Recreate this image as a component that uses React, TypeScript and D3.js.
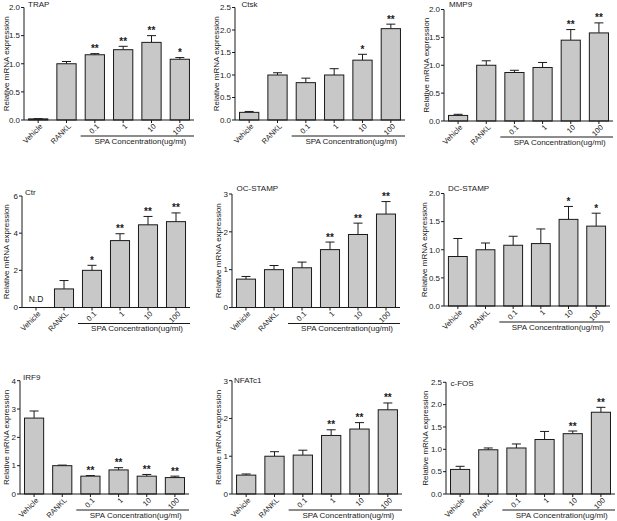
import React from "react";
import * as d3 from "d3";

const categories = ["Vehicle", "RANKL", "0.1", "1", "10", "100"];
const genes = ["TRAP", "Ctsk", "MMP9", "Ctr", "OC-STAMP", "DC-STAMP", "IRF9", "NFATc1", "c-FOS"];

const trapValues = [0.02, 1.0, 1.16, 1.25, 1.38, 1.08];
const trapErrors = [0.005, 0.04, 0.02, 0.06, 0.12, 0.03];
const trapSig = ["", "", "**", "**", "**", "*"];

const ctskValues = [0.17, 1.0, 0.83, 1.0, 1.33, 2.03];
const ctskErrors = [0.02, 0.05, 0.1, 0.14, 0.13, 0.1];
const ctskSig = ["", "", "", "", "*", "**"];

const mmp9Values = [0.1, 1.0, 0.87, 0.96, 1.45, 1.58];
const mmp9Errors = [0.02, 0.08, 0.04, 0.09, 0.19, 0.18];
const mmp9Sig = ["", "", "", "", "**", "**"];

const ctrValues = [null, 1.0, 2.0, 3.6, 4.45, 4.62];
const ctrErrors = [0, 0.45, 0.27, 0.37, 0.45, 0.47];
const ctrSig = ["", "", "*", "**", "**", "**"];

const ocstampValues = [0.75, 1.0, 1.05, 1.53, 1.93, 2.47];
const ocstampErrors = [0.07, 0.11, 0.15, 0.2, 0.3, 0.33];
const ocstampSig = ["", "", "", "**", "**", "**"];

const dcstampValues = [0.88, 1.0, 1.08, 1.11, 1.54, 1.42];
const dcstampErrors = [0.32, 0.12, 0.16, 0.26, 0.23, 0.23];
const dcstampSig = ["", "", "", "", "*", "*"];

const irf9Values = [2.68, 1.0, 0.63, 0.85, 0.63, 0.58];
const irf9Errors = [0.25, 0.02, 0.02, 0.08, 0.06, 0.05];
const irf9Sig = ["", "", "**", "**", "**", "**"];

const nfatc1Values = [0.5, 1.0, 1.03, 1.55, 1.72, 2.23];
const nfatc1Errors = [0.03, 0.12, 0.13, 0.15, 0.17, 0.18];
const nfatc1Sig = ["", "", "", "**", "**", "**"];

const cfosValues = [0.55, 0.99, 1.03, 1.22, 1.35, 1.83];
const cfosErrors = [0.07, 0.04, 0.09, 0.18, 0.06, 0.11];
const cfosSig = ["", "", "", "", "**", "**"];

const yMaxes = [2, 2.5, 2, 6, 3, 2, 4, 3, 2.5];
const ySteps = [0.5, 0.5, 0.5, 2, 1, 0.5, 1, 1, 0.5];

const yAxisLabel = "Relative mRNA expression";
const groupLabel = "SPA Concentration(ug/ml)";
const notDetectedLabel = "N.D";

const allValues = [trapValues, ctskValues, mmp9Values, ctrValues, ocstampValues, dcstampValues, irf9Values, nfatc1Values, cfosValues];
const allErrors = [trapErrors, ctskErrors, mmp9Errors, ctrErrors, ocstampErrors, dcstampErrors, irf9Errors, nfatc1Errors, cfosErrors];
const allSig = [trapSig, ctskSig, mmp9Sig, ctrSig, ocstampSig, dcstampSig, irf9Sig, nfatc1Sig, cfosSig];

// layout (pixel positions of each panel)
const layouts = [
  { x0: 24, x1: 194, yTop: 7.5, yBot: 120, labX: 6, titleX: 28, titleY: 7 },
  { x0: 235, x1: 405, yTop: 7.5, yBot: 120, labX: 215.5, titleX: 241.5, titleY: 7 },
  { x0: 444, x1: 613, yTop: 9.5, yBot: 121, labX: 426, titleX: 449, titleY: 7 },
  { x0: 22, x1: 190, yTop: 196, yBot: 307.5, labX: 5.5, titleX: 25, titleY: 195 },
  { x0: 232, x1: 400, yTop: 194, yBot: 307.5, labX: 218, titleX: 236.5, titleY: 190.7 },
  { x0: 444, x1: 610, yTop: 193.5, yBot: 306, labX: 424, titleX: 448, titleY: 191 },
  { x0: 20, x1: 189, yTop: 380.7, yBot: 494, labX: 5.5, titleX: 23, titleY: 380 },
  { x0: 232, x1: 402, yTop: 380.7, yBot: 494, labX: 218, titleX: 234, titleY: 382.7 },
  { x0: 446, x1: 615, yTop: 382.3, yBot: 494, labX: 425, titleX: 450.5, titleY: 385.7 },
];

const FONT = "'Liberation Sans', Arial, Helvetica, sans-serif";
const INK = "#1a1a1a";
const BAR_FILL = "#c8c8c8";

function Panel({ idx }: { idx: number }) {
  const L = layouts[idx];
  const values = allValues[idx];
  const errors = allErrors[idx];
  const sig = allSig[idx];
  const x = d3.scaleBand<string>().domain(categories).range([L.x0, L.x1]).paddingInner(0.32).paddingOuter(0.16);
  const y = d3.scaleLinear().domain([0, yMaxes[idx]]).range([L.yBot, L.yTop]);
  const ticks = d3.range(0, yMaxes[idx] + 1e-9, ySteps[idx]);
  const fmt = ySteps[idx] < 1 ? d3.format(".1f") : d3.format("d");
  const bw = x.bandwidth();
  const capW = 9;
  const groupStart = (x(categories[2]) as number) - (x.step() * 0.32) / 2;
  const yMid = (L.yTop + L.yBot) / 2;
  return (
    <g fontFamily={FONT} fill={INK}>
      <text x={L.titleX} y={L.titleY} fontSize={8}>{genes[idx]}</text>
      <text transform={`translate(${L.labX + 3},${yMid}) rotate(-90)`} textAnchor="middle" fontSize={8}>{yAxisLabel}</text>
      {categories.map((c, i) => {
        const v = values[i];
        const bx = x(c) as number;
        const cx = bx + bw / 2;
        if (v === null) {
          return (
            <text key={c} x={cx} y={L.yBot - 6} textAnchor="middle" fontSize={8.5}>{notDetectedLabel}</text>
          );
        }
        const top = y(v + errors[i]);
        return (
          <g key={c}>
            <line x1={cx} x2={cx} y1={y(v)} y2={top} stroke={INK} strokeWidth={1} />
            <line x1={cx - capW / 2} x2={cx + capW / 2} y1={top} y2={top} stroke={INK} strokeWidth={1} />
            <rect x={bx} y={y(v)} width={bw} height={L.yBot - y(v)} fill={BAR_FILL} stroke={INK} strokeWidth={1} />
            {sig[i] && (
              <text x={cx} y={top - 1.5} textAnchor="middle" fontSize={10} fontWeight="bold">{sig[i]}</text>
            )}
          </g>
        );
      })}
      <line x1={L.x0} x2={L.x0} y1={L.yTop} y2={L.yBot} stroke={INK} strokeWidth={1} />
      {ticks.map((t) => (
        <g key={t}>
          <line x1={L.x0 - 3} x2={L.x0} y1={y(t)} y2={y(t)} stroke={INK} strokeWidth={1} />
          <text x={L.x0 - 4} y={y(t)} dy="0.35em" textAnchor="end" fontSize={8}>{fmt(t)}</text>
        </g>
      ))}
      <line x1={L.x0} x2={L.x1} y1={L.yBot} y2={L.yBot} stroke={INK} strokeWidth={1} />
      {categories.map((c) => {
        const cx = (x(c) as number) + bw / 2;
        return (
          <g key={c}>
            <line x1={cx} x2={cx} y1={L.yBot} y2={L.yBot + 3} stroke={INK} strokeWidth={1} />
            <text transform={`translate(${cx + 3},${L.yBot + 5}) rotate(-45)`} dy="0.35em" textAnchor="end" fontSize={7.5}>{c}</text>
          </g>
        );
      })}
      <line x1={groupStart} x2={L.x1} y1={L.yBot + 16} y2={L.yBot + 16} stroke={INK} strokeWidth={1} />
      <text x={(groupStart + L.x1) / 2 + 3} y={L.yBot + 23.5} textAnchor="middle" fontSize={8}>{groupLabel}</text>
    </g>
  );
}

export default function App() {
  return (
    <svg width={617} height={521} style={{ position: "absolute", left: 0, top: 0, background: "#fff" }}>
      <rect width={617} height={521} fill="#fff" />
      {genes.map((g, i) => (
        <Panel key={g} idx={i} />
      ))}
    </svg>
  );
}
